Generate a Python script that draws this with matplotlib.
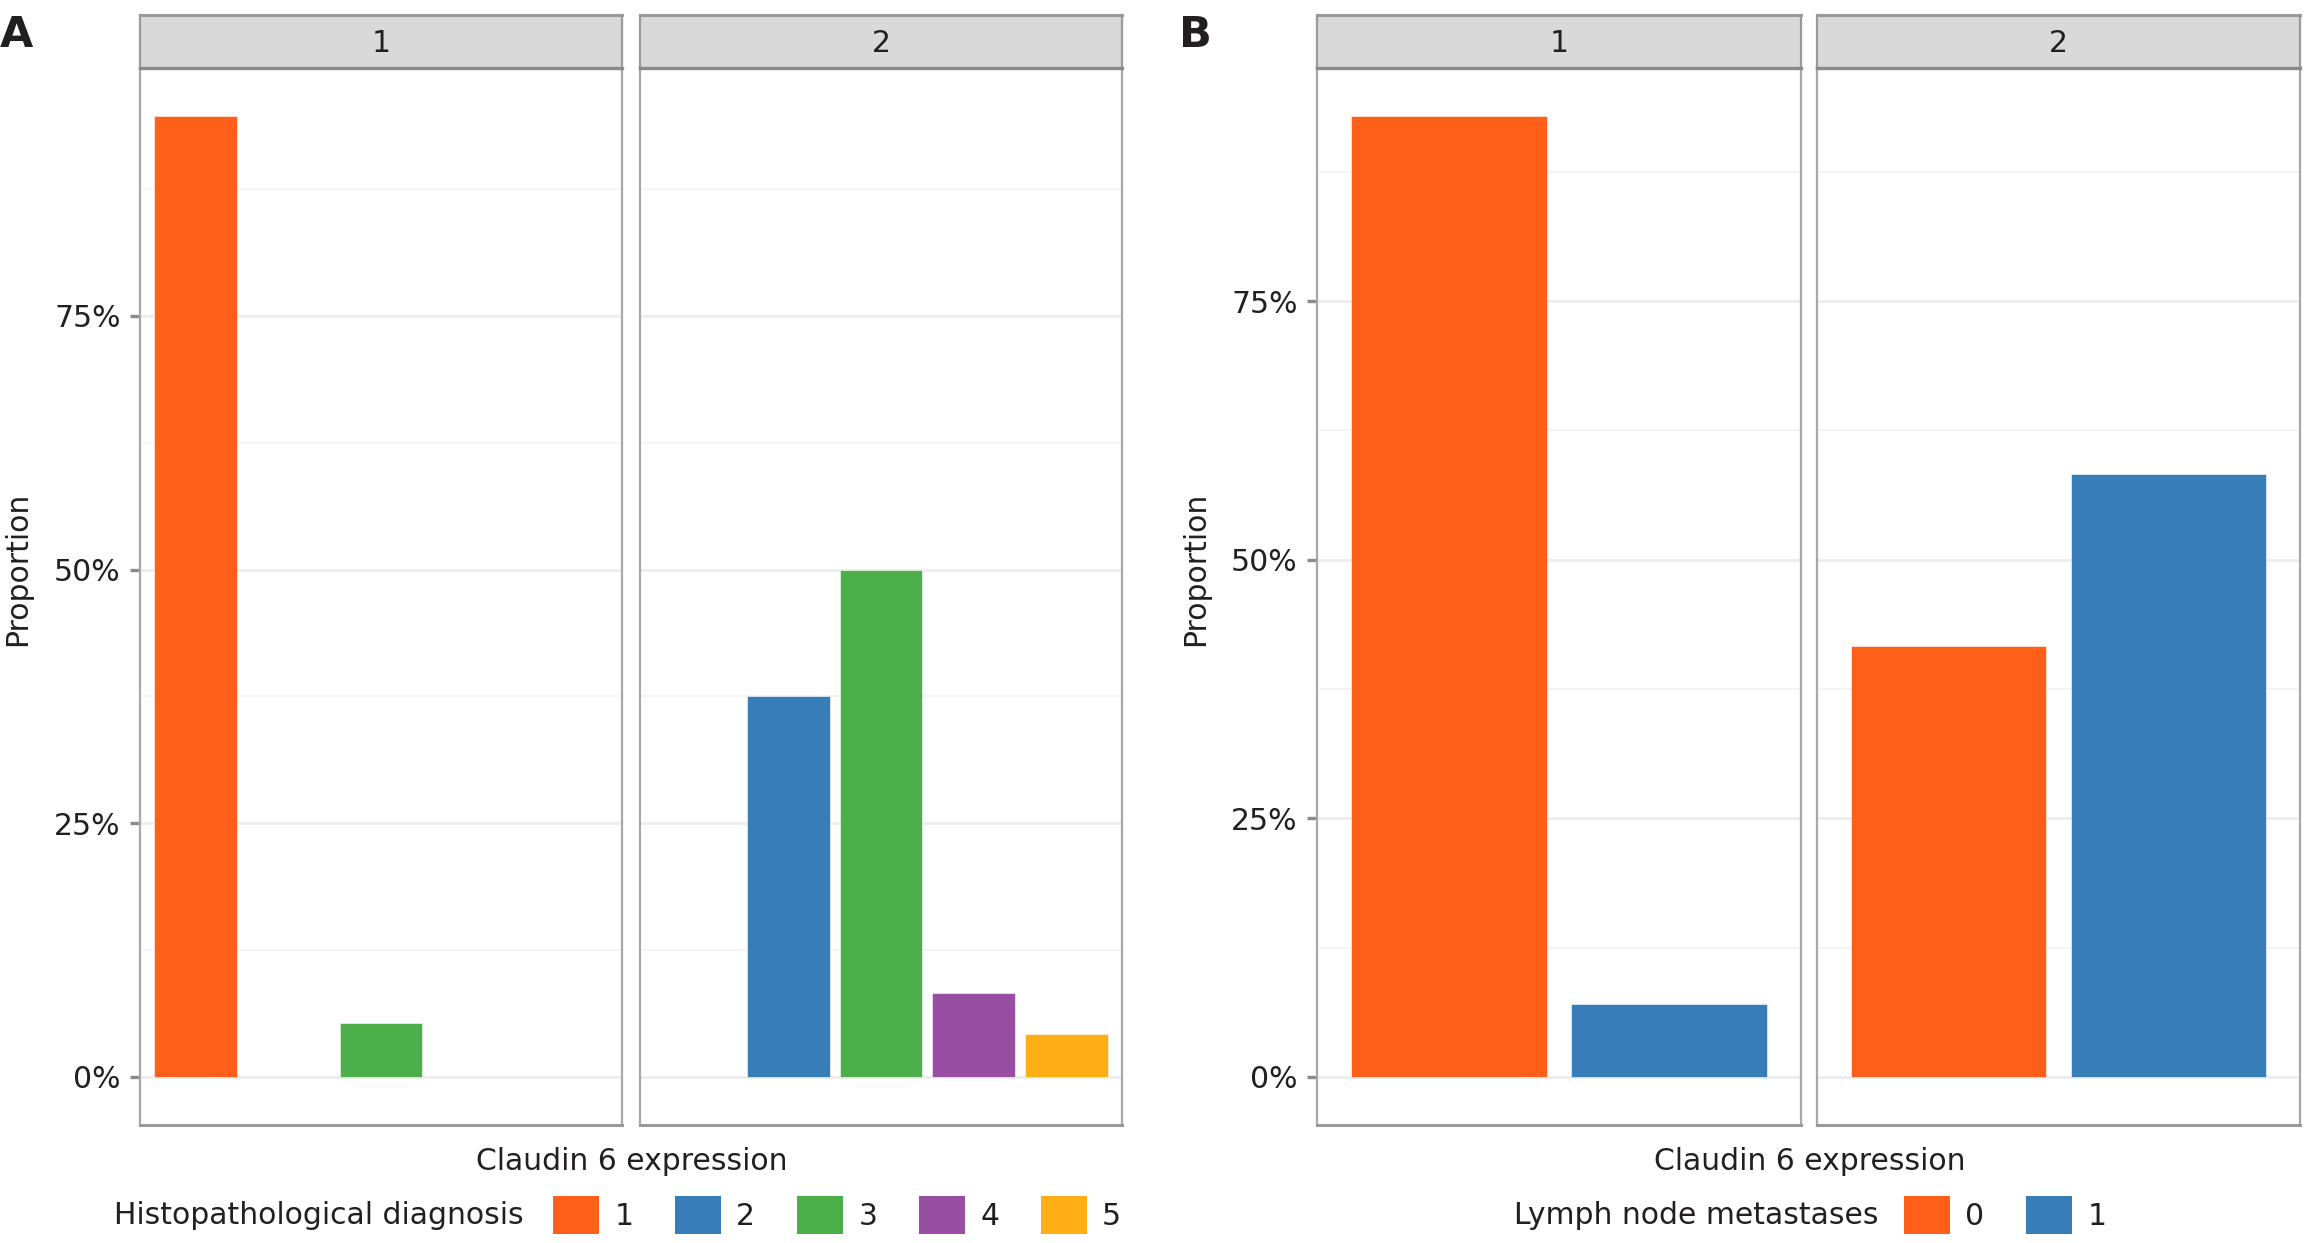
import matplotlib
matplotlib.use("Agg")
import matplotlib.pyplot as plt
from matplotlib.patches import Patch
from matplotlib.ticker import FixedLocator, FuncFormatter

plt.rcParams['font.family'] = ['DejaVu Sans']

# ---------------- data ----------------
facet_labels = ['1', '2']
diag_levels = ['1', '2', '3', '4', '5']
diag_claudin1 = [0.947, 0.0, 0.053, 0.0, 0.0]
diag_claudin2 = [0.0, 0.375, 0.500, 0.083, 0.042]
lymph_levels = ['0', '1']
lymph_claudin1 = [0.929, 0.071]
lymph_claudin2 = [0.417, 0.583]
y_major = [0.0, 0.25, 0.50, 0.75]
y_minor = [0.125, 0.375, 0.625, 0.875]
diag_colors = ['#FF5F19', '#377EB8', '#4DAF4A', '#984EA3', '#FFAE15']
lymph_colors = ['#FF5F19', '#377EB8']

W, H = 2305, 1243
TXT = '#231f20'
FS = 21.5
fig = plt.figure(figsize=(W / 100, H / 100), dpi=100)


def rect(x0, y0, x1, y1):
    return [x0 / W, 1 - y1 / H, (x1 - x0) / W, (y1 - y0) / H]


STRIP_TOP, STRIP_BOT, PANEL_BOT = 14.5, 68, 1125


def facet(x0, x1, values, colors, ymax, label, first):
    ax = fig.add_axes(rect(x0, STRIP_BOT, x1, PANEL_BOT))
    n = len(values)
    xs = list(range(n))
    bars = ax.bar(xs, values, width=0.89, color=colors, edgecolor='white',
                  linewidth=0.4, zorder=3)
    for b, v in zip(bars, values):
        if v == 0:
            b.set_visible(False)
    ax.set_xlim(-0.6, n - 0.4)
    pad = ymax * 0.05
    ax.set_ylim(-pad, ymax + pad)
    ax.yaxis.set_major_locator(FixedLocator(y_major))
    ax.yaxis.set_minor_locator(FixedLocator(y_minor))
    ax.grid(True, which='major', axis='y', color='#eeeeee', linewidth=2.2, zorder=0)
    ax.grid(True, which='minor', axis='y', color='#f4f4f4', linewidth=1.4, zorder=0)
    ax.set_xticks([])
    ax.tick_params(axis='y', which='minor', length=0)
    if first:
        ax.yaxis.set_major_formatter(FuncFormatter(lambda v, p: f"{int(round(v * 100))}%"))
        ax.tick_params(axis='y', which='major', length=7, width=2.4, color='#8c8c8c',
                       labelsize=FS, labelcolor=TXT, pad=7)
    else:
        ax.tick_params(axis='y', which='major', length=0, labelleft=False)
    for s in ax.spines.values():
        s.set_color('#a8a8a8')
        s.set_linewidth(1.6)
    ax.spines['bottom'].set_color('#9a9a9a')
    ax.spines['bottom'].set_linewidth(2.2)
    # strip
    st = fig.add_axes(rect(x0, STRIP_TOP, x1, STRIP_BOT))
    st.set_facecolor('#d9d9d9')
    st.set_xticks([])
    st.set_yticks([])
    for s in st.spines.values():
        s.set_color('#9a9a9a')
        s.set_linewidth(1.6)
    st.spines['top'].set_linewidth(2.2)
    st.spines['bottom'].set_linewidth(2.4)
    st.spines['bottom'].set_color('#8a8a8a')
    st.text(0.5, 0.45, label, ha='center', va='center', fontsize=FS, color=TXT,
            transform=st.transAxes)
    return ax


# Panel A
ymaxA = max(diag_claudin1 + diag_claudin2)
facet(140, 622, diag_claudin1, diag_colors, ymaxA, facet_labels[0], True)
facet(640, 1122, diag_claudin2, diag_colors, ymaxA, facet_labels[1], False)
# Panel B
ymaxB = max(lymph_claudin1 + lymph_claudin2)
facet(1317, 1801, lymph_claudin1, lymph_colors, ymaxB, facet_labels[0], True)
facet(1817, 2300, lymph_claudin2, lymph_colors, ymaxB, facet_labels[1], False)

# panel letters
fig.text(0 / W, 1 - 14 / H, 'A', fontsize=31, fontweight='bold', color=TXT,
         ha='left', va='top')
fig.text(1179 / W, 1 - 14 / H, 'B', fontsize=31, fontweight='bold', color=TXT,
         ha='left', va='top')

# axis titles
for xc in (18, 1196):
    fig.text(xc / W, 1 - 569 / H, 'Proportion', rotation=90, fontsize=FS,
             color=TXT, ha='center', va='center')
for xc in (632, 1810):
    fig.text(xc / W, 1 - 1162 / H, 'Claudin 6 expression', fontsize=FS,
             color=TXT, ha='center', va='center')


# legends
def legend(levels, colors, title, title_right, key_left):
    handles = [Patch(facecolor=c, edgecolor='none', label=l) for l, c in zip(levels, colors)]
    fig.legend(handles=handles, ncol=len(levels), loc='center left',
               bbox_to_anchor=(key_left / W, 1 - 1215 / H), frameon=False,
               fontsize=FS, handlelength=1.55, handleheight=1.55,
               handletextpad=0.5, columnspacing=1.4, borderpad=0,
               borderaxespad=0, labelcolor=TXT)
    fig.text(title_right / W, 1 - 1215 / H, title, fontsize=FS, color=TXT,
             ha='right', va='center')


legend(diag_levels, diag_colors, 'Histopathological diagnosis', 524, 553)
legend(lymph_levels, lymph_colors, 'Lymph node metastases', 1878, 1904)

fig.savefig('out.png', dpi=100, facecolor='white')
